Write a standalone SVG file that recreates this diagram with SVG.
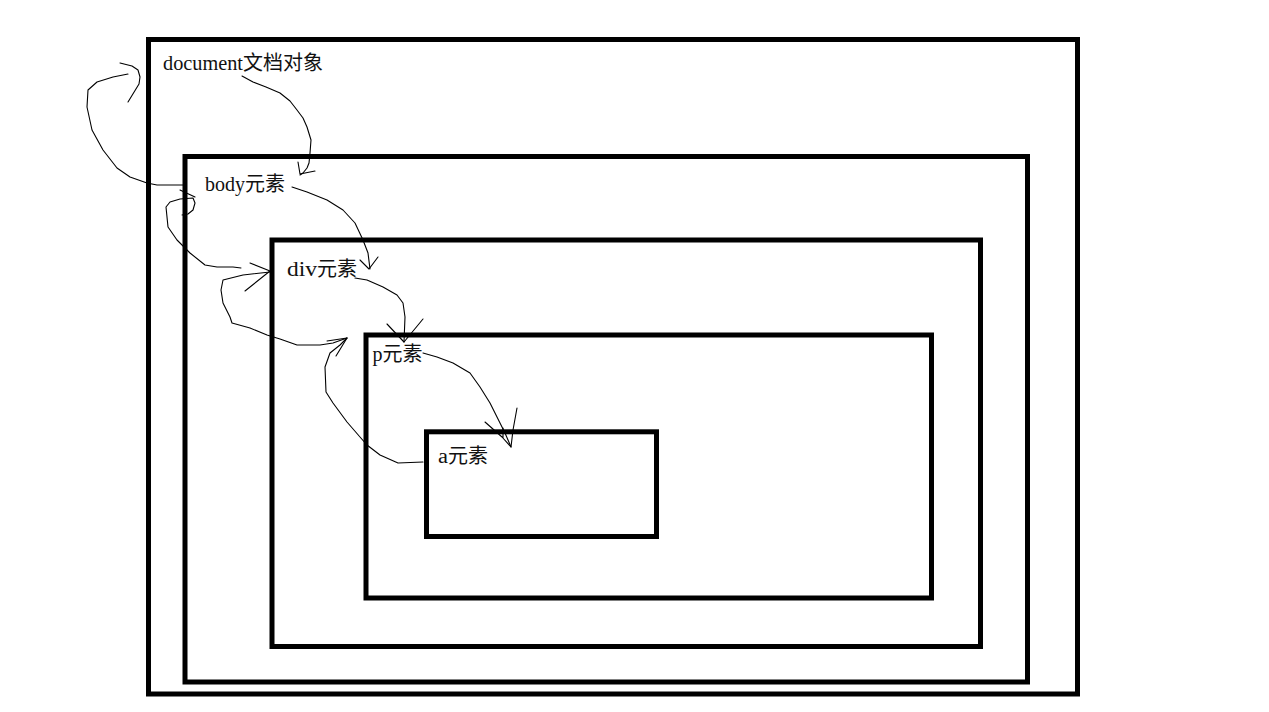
<svg xmlns="http://www.w3.org/2000/svg" width="1269" height="712" viewBox="0 0 1269 712">
<style>
.box{fill:none;stroke:#000;stroke-width:5}
.lat{font-family:"Liberation Serif","DejaVu Serif",serif;font-size:20px;fill:#111}
.cjk{font-family:"Noto Sans CJK SC","Noto Sans CJK JP",sans-serif;font-size:20px;fill:#111}
.ln{fill:none;stroke:#000;stroke-width:1.1;stroke-linejoin:round;stroke-linecap:round}
</style>
<rect width="1269" height="712" fill="#fff"/>
<g id="document">
<rect class="box" x="148.5" y="39.5" width="929" height="654.5"/>
<text class="lat" x="163" y="70" textLength="80" lengthAdjust="spacingAndGlyphs">document</text>
<text class="cjk" x="243" y="70">文档对象</text>
</g>
<g id="body">
<rect class="box" x="185" y="156.5" width="842.5" height="525.5"/>
<text class="lat" x="205" y="191" textLength="40" lengthAdjust="spacingAndGlyphs">body</text>
<text class="cjk" x="245" y="191">元素</text>
</g>
<g id="div">
<rect class="box" x="272" y="240" width="708.5" height="406.5"/>
<text class="lat" x="287" y="276" textLength="30" lengthAdjust="spacingAndGlyphs">div</text>
<text class="cjk" x="317" y="276">元素</text>
</g>
<g id="p">
<rect class="box" x="366" y="335" width="565.5" height="263"/>
<text class="lat" x="372.5" y="361" textLength="10" lengthAdjust="spacingAndGlyphs">p</text>
<text class="cjk" x="382.5" y="361">元素</text>
</g>
<g id="a">
<rect class="box" x="426.5" y="431.8" width="230" height="104.7"/>
<text class="lat" x="438" y="463" textLength="10" lengthAdjust="spacingAndGlyphs">a</text>
<text class="cjk" x="448" y="463">元素</text>
</g>
<g id="connectors">
<path class="ln" d="M242,76 L253,82 L266,87 L280,93 L290,101 L297,110 L303,118 L307,127 L311,140 L310,153 L309,163 L307,168 L303,173 L300,175"/>
<path class="ln" d="M298,162 L300,174 L315,171"/>
<path class="ln" d="M183,185 L157,185 L147,183 L130,177 L117,168 L103,150 L92,130 L87,107 L88,90 L97,82 L113,77 L128,74"/>
<path class="ln" d="M120,63 L132,66 L138,70 L140,77 L139,84 L128,102"/>
<path class="ln" d="M241,268 L233,267 L217,267 L205,265 L190,253 L177,240 L168,227 L166,207 L170,202 L180,199 L193,198 L195,203 L193,210 L188,214 L182,215"/>
<path class="ln" d="M180,190 L195,197"/>
<path class="ln" d="M292,187 L307,192 L327,200 L343,210 L355,223 L363,240 L368,253 L370,269"/>
<path class="ln" d="M360,260 L369,269 L378,257"/>
<path class="ln" d="M250,263 L270,271 L245,291"/>
<path class="ln" d="M270,272 L243,275 L223,280 L221,290 L223,303 L230,317 L232,323 L250,328 L267,335 L280,339 L297,345 L320,345 L333,343 L347,338"/>
<path class="ln" d="M327,341 L347,338 L336,356"/>
<path class="ln" d="M423,462 L398,463 L380,455 L367,445 L360,437 L347,422 L333,403 L326,392 L325,367 L330,353 L340,345 L347,338"/>
<path class="ln" d="M355,278 L367,280 L383,287 L397,295 L403,303 L405,317 L404,342"/>
<path class="ln" d="M387,324 L404,342 L423,319"/>
<path class="ln" d="M423,353 L437,357 L453,363 L470,373 L480,387 L490,403 L500,423 L505,433 L511,447"/>
<path class="ln" d="M485,422 L502,437 L511,447 M517,408 L513,430 L511,447 M503,428 L503,438"/>
</g>
</svg>
